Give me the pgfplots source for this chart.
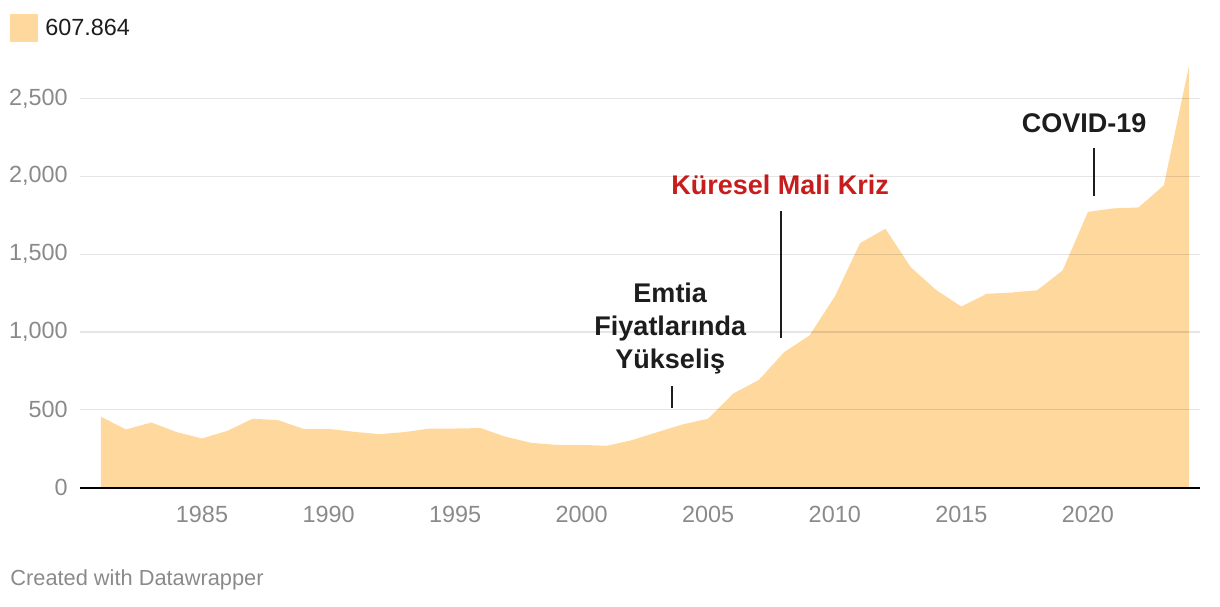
\documentclass[border=0pt]{standalone}
\usepackage{fontspec}
\setmainfont{Liberation Sans}
\usepackage{pgfplots}
\pgfplotsset{compat=1.18}

\definecolor{areafill}{HTML}{FED89C}
\definecolor{krizred}{HTML}{C71E1D}
\definecolor{annot}{HTML}{1D1D1D}
\definecolor{tickgray}{HTML}{8A8A8A}

\begin{document}
\begin{tikzpicture}
\useasboundingbox (0,0) rectangle (610pt,303pt);

% legend
\fill[areafill] (5pt,282pt) rectangle (19pt,296pt);
\node[anchor=west, inner sep=0pt, text=annot, font=\fontsize{11.7}{14}\selectfont] at (22.5pt,289.5pt) {607.864};

\begin{axis}[
  at={(40pt,59.25pt)}, anchor=south west,
  scale only axis, width=560pt, height=211.6pt,
  xmin=1980.18, xmax=2024.43,
  ymin=0, ymax=2720,
  axis lines=left,
  x axis line style={-, black, line width=1pt},
  y axis line style={draw=none},
  axis on top,
  major tick length=0pt,
  xtick={1985,1990,...,2020},
  xticklabels={1985,1990,1995,2000,2005,2010,2015,2020},
  ytick={0,500,...,2500},
  yticklabels={0,500,{1,000},{1,500},{2,000},{2,500}},
  ymajorgrids,
  grid style={black, opacity=0.1, line width=0.6pt},
  xticklabel style={anchor=north, inner sep=0pt, yshift=-9pt, text=tickgray, font=\fontsize{11.7}{14}\selectfont},
  yticklabel style={anchor=east, inner sep=0pt, xshift=-6pt, text=tickgray, font=\fontsize{11.7}{14}\selectfont},
]
\addplot[fill=areafill, draw=none] table {
1981 455
1982 373
1983 418
1984 356
1985 315
1986 364
1987 442
1988 433
1989 377
1990 377
1991 358
1992 343
1993 356
1994 379
1995 379
1996 382
1997 326
1998 287
1999 274
2000 274
2001 268
2002 305
2003 356
2004 406
2005 442
2006 605
2007 691
2008 870
2009 977
2010 1227
2011 1571
2012 1663
2013 1416
2014 1270
2015 1163
2016 1245
2017 1253
2018 1268
2019 1395
2020 1771
2021 1794
2022 1800
2023 1942
2024 2713
} \closedcycle;

% annotations
\node[text=annot, font=\bfseries\fontsize{13.5}{16.5}\selectfont] at (axis cs:2019.85,2343) {COVID-19};
\draw[annot, line width=1pt] (axis cs:2020.24,1873) -- (axis cs:2020.24,2182);

\node[text=krizred, font=\bfseries\fontsize{13.5}{16.5}\selectfont] at (axis cs:2007.84,1944) {Küresel Mali Kriz};
\draw[annot, line width=1pt] (axis cs:2007.87,961) -- (axis cs:2007.87,1777);

\node[text=annot, align=center, font=\bfseries\fontsize{13.5}{16.5}\selectfont] at (axis cs:2003.5,1019) {Emtia\\Fiyatlarında\\Yükseliş};
\draw[annot, line width=1pt] (axis cs:2003.57,511) -- (axis cs:2003.57,652);
\end{axis}

\node[anchor=west, inner sep=0pt, text=tickgray, font=\fontsize{10.9}{13}\selectfont] at (5pt,13pt) {Created with Datawrapper};
\end{tikzpicture}
\end{document}
